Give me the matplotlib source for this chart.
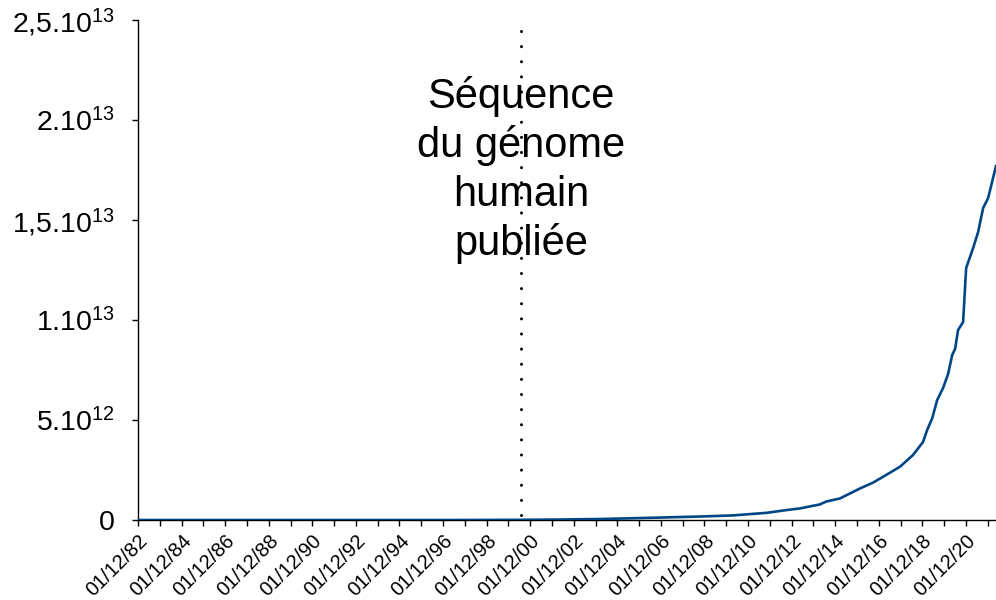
import matplotlib
matplotlib.use('Agg')
import matplotlib.pyplot as plt
from matplotlib import transforms
import numpy as np

plt.rcParams['font.family'] = ['Liberation Sans', 'DejaVu Sans']
plt.rcParams['mathtext.fontset'] = 'custom'
plt.rcParams['mathtext.rm'] = 'Liberation Sans'
plt.rcParams['mathtext.it'] = 'Liberation Sans'
plt.rcParams['mathtext.bf'] = 'Liberation Sans'

# data (years as decimals, bases)
years = [1982.92, 1990.0, 1997.23, 2000.49, 2002.28, 2004.12, 2006.41, 2008.71,
         2010.22, 2011.78, 2012.70, 2013.30, 2014.22, 2014.50, 2015.14, 2016.06,
         2016.66, 2017.44, 2017.90, 2018.49, 2018.95, 2019.14, 2019.37, 2019.60,
         2019.87, 2020.10, 2020.29, 2020.42, 2020.56, 2020.79, 2020.93, 2021.25,
         2021.48, 2021.71, 2021.94, 2022.30]
bases = [0, 0, 0, 0.01e12, 0.025e12, 0.05e12, 0.11e12, 0.175e12,
         0.23e12, 0.36e12, 0.50e12, 0.58e12, 0.78e12, 0.92e12, 1.08e12, 1.58e12,
         1.87e12, 2.37e12, 2.67e12, 3.25e12, 3.9e12, 4.5e12, 5.08e12, 6.0e12,
         6.6e12, 7.3e12, 8.25e12, 8.55e12, 9.5e12, 9.9e12, 12.6e12, 13.6e12,
         14.4e12, 15.6e12, 16.1e12, 17.7e12]

tick_years = list(range(82, 100)) + list(range(0, 22))
ytick_vals = [0, 0.5e13, 1e13, 1.5e13, 2e13, 2.5e13]
ytick_labels = ['0', '5.10$^{12}$', '1.10$^{13}$', '1,5.10$^{13}$', '2.10$^{13}$', '2,5.10$^{13}$']

genome_year = 2000.49
genome_text = 'Séquence\ndu génome\nhumain\npubliée'

fig = plt.figure(figsize=(9.96, 6.0), dpi=100)
ax = fig.add_axes([0.1386, 0.1333, 0.8614, 0.8334])

ax.plot(years, bases, color='#004586', lw=1.9, zorder=3)

# dotted marker line, drawn top->bottom so the dots start at the top
ax.plot([genome_year, genome_year], [2.445e13, -0.045e13], color='k', lw=2.2,
        linestyle=(0, (0.01, 4.94)), dash_capstyle='round', clip_on=False, zorder=2)
ax.text(genome_year, 1.75e13, genome_text, ha='center', va='center',
        fontsize=30, linespacing=1.27, zorder=4)

ax.set_xlim(1982.92, 2022.30)
ax.set_ylim(0, 2.5e13)

xt = [1982.92 + i for i in range(len(tick_years))]
ax.set_xticks(xt)
ax.set_xticklabels(['01/12/%02d' % y if i % 2 == 0 else '' for i, y in enumerate(tick_years)],
                   rotation=45, ha='right', rotation_mode='anchor', fontsize=14.5)
shift = transforms.ScaledTranslation(3 / 100, 0, fig.dpi_scale_trans)
for lbl in ax.get_xticklabels():
    lbl.set_transform(lbl.get_transform() + shift)
ax.set_yticks(ytick_vals)
ax.set_yticklabels(ytick_labels, fontsize=20.5)

ax.tick_params(axis='x', direction='out', length=4, width=1, pad=4)
ax.tick_params(axis='y', direction='out', length=4, width=1, pad=12.5)
ax.spines['top'].set_visible(False)
ax.spines['right'].set_visible(False)
ax.spines['left'].set_linewidth(1)
ax.spines['bottom'].set_linewidth(1)

fig.savefig('out.png', dpi=100)
